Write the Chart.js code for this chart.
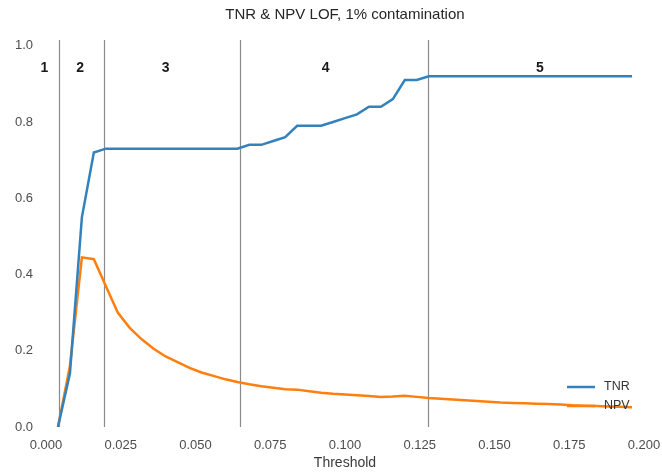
<!DOCTYPE html>
<html>
<head>
<meta charset="utf-8">
<script src="https://cdn.jsdelivr.net/npm/chart.js@4/dist/chart.umd.min.js"></script>
<style>
    body { margin: 0; background: #ffffff; }
    #wrap { width: 662px; height: 475px; }
</style>
</head>
<body>
<div id="wrap"><canvas id="myChart" width="662" height="475"></canvas></div>
<script>
const thresholds = [
    0.004, 0.008, 0.012, 0.016, 0.020, 0.024, 0.028, 0.032, 0.036, 0.040,
    0.044, 0.048, 0.052, 0.056, 0.060, 0.064, 0.068, 0.072, 0.076, 0.080,
    0.084, 0.088, 0.092, 0.096, 0.100, 0.104, 0.108, 0.112, 0.116, 0.120,
    0.124, 0.128, 0.132, 0.136, 0.140, 0.144, 0.148, 0.152, 0.156, 0.160,
    0.164, 0.168, 0.172, 0.176, 0.180, 0.184, 0.188, 0.192, 0.196
];

const tnr = [
    0.00, 0.14, 0.55, 0.72, 0.73, 0.73, 0.73, 0.73, 0.73, 0.73,
    0.73, 0.73, 0.73, 0.73, 0.73, 0.73, 0.74, 0.74, 0.75, 0.76,
    0.79, 0.79, 0.79, 0.80, 0.81, 0.82, 0.84, 0.84, 0.86, 0.91,
    0.91, 0.92, 0.92, 0.92, 0.92, 0.92, 0.92, 0.92, 0.92, 0.92,
    0.92, 0.92, 0.92, 0.92, 0.92, 0.92, 0.92, 0.92, 0.92
];

const npv = [
    0.000, 0.160, 0.445, 0.440, 0.370, 0.300, 0.260, 0.230, 0.205, 0.185,
    0.170, 0.155, 0.143, 0.134, 0.125, 0.118, 0.112, 0.107, 0.103, 0.099,
    0.098, 0.094, 0.090, 0.087, 0.085, 0.083, 0.081, 0.079, 0.080, 0.082,
    0.079, 0.076, 0.074, 0.072, 0.070, 0.068, 0.066, 0.064, 0.063, 0.062,
    0.061, 0.060, 0.059, 0.057, 0.056, 0.055, 0.054, 0.053, 0.052
];

const xTicks = [0, 0.025, 0.05, 0.075, 0.1, 0.125, 0.15, 0.175, 0.2];
const yTicks = [0, 0.2, 0.4, 0.6, 0.8, 1.0];

// region boundaries and the numbers written over each region
const boundaries = [0.0044, 0.0195, 0.0648, 0.1277];
const regionNames = ["1", "2", "3", "4", "5"];
const regionX = [-0.0005, 0.0114, 0.0400, 0.0935, 0.1652];
const regionY = 0.942;

const FONT = "'Liberation Sans', Arial, sans-serif";

function toPoints(values) {
    return thresholds.map(function(t, i) { return { x: t, y: values[i] }; });
}

const annotations = {
    id: "annotations",
    beforeDatasetsDraw(chart) {
        const ctx = chart.ctx;
        const area = chart.chartArea;
        const xs = chart.scales.x;
        ctx.save();
        ctx.strokeStyle = "#8a8a8a";
        ctx.lineWidth = 1.2;
        boundaries.forEach(function(b) {
            const px = Math.round(xs.getPixelForValue(b)) + 0.5;
            ctx.beginPath();
            ctx.moveTo(px, area.top);
            ctx.lineTo(px, area.bottom);
            ctx.stroke();
        });
        ctx.restore();
    },
    afterDraw(chart) {
        const ctx = chart.ctx;
        const area = chart.chartArea;
        const xs = chart.scales.x;
        const ys = chart.scales.y;
        ctx.save();

        // region numbers
        ctx.fillStyle = "#1a1a1a";
        ctx.font = "bold 14px " + FONT;
        ctx.textAlign = "center";
        ctx.textBaseline = "middle";
        regionNames.forEach(function(name, i) {
            ctx.fillText(name, xs.getPixelForValue(regionX[i]), ys.getPixelForValue(regionY));
        });

        // title and axis label
        const midX = (area.left + area.right) / 2;
        ctx.fillStyle = "#262626";
        ctx.font = "15px " + FONT;
        ctx.fillText("TNR & NPV LOF, 1% contamination", midX, 15);
        ctx.fillStyle = "#3a3a3a";
        ctx.font = "14px " + FONT;
        ctx.fillText("Threshold", midX, 463);

        // legend, bottom right inside the plot
        ctx.font = "12.5px " + FONT;
        ctx.textAlign = "left";
        chart.data.datasets.forEach(function(ds, i) {
            const y = area.bottom - 40 + i * 19;
            ctx.strokeStyle = ds.borderColor;
            ctx.lineWidth = 2.5;
            ctx.beginPath();
            ctx.moveTo(area.right - 77, y);
            ctx.lineTo(area.right - 49, y);
            ctx.stroke();
            ctx.fillStyle = "#333333";
            ctx.fillText(ds.label, area.right - 40, y);
        });
        ctx.restore();
    }
};

function drawChart() {
    const ctx = document.getElementById("myChart");
    ctx.style.backgroundColor = "rgba(255, 255, 255, 1)";
    const myChart = new Chart(ctx, {
        type: "line",
        data: {
            datasets: [{
                label: "TNR",
                data: toPoints(tnr),
                borderColor: "#3182bd",
                borderWidth: 2.5
            }, {
                label: "NPV",
                data: toPoints(npv),
                borderColor: "#ff7f0e",
                borderWidth: 2.5
            }]
        },
        options: {
            responsive: false,
            animation: false,
            layout: { padding: { top: 40, right: 18, left: 0, bottom: 0 } },
            elements: {
                point: { radius: 0 },
                line: { tension: 0 }
            },
            plugins: {
                legend: { display: false },
                title: { display: false },
                tooltip: { enabled: false }
            },
            scales: {
                x: {
                    type: "linear",
                    min: 0,
                    max: 0.2,
                    grid: { display: false, drawTicks: false },
                    border: { display: false },
                    afterBuildTicks: function(scale) {
                        scale.ticks = xTicks.map(function(v) { return { value: v }; });
                    },
                    afterFit: function(scale) {
                        scale.height = 48;
                        scale.paddingLeft = 0;
                        scale.paddingRight = 0;
                    },
                    ticks: {
                        color: "#4d4d4d",
                        font: { family: FONT, size: 13 },
                        padding: 11,
                        maxRotation: 0,
                        callback: function(v) { return v.toFixed(3); }
                    }
                },
                y: {
                    min: 0,
                    max: 1.015,
                    grid: { display: false, drawTicks: false },
                    border: { display: false },
                    afterBuildTicks: function(scale) {
                        scale.ticks = yTicks.map(function(v) { return { value: v }; });
                    },
                    afterFit: function(scale) {
                        scale.width = 46;
                        scale.paddingTop = 0;
                        scale.paddingBottom = 0;
                    },
                    ticks: {
                        color: "#4d4d4d",
                        font: { family: FONT, size: 13 },
                        padding: 13,
                        callback: function(v) { return v.toFixed(1); }
                    }
                }
            }
        },
        plugins: [annotations]
    });
}

document.addEventListener("DOMContentLoaded", drawChart);
</script>
</body>
</html>
